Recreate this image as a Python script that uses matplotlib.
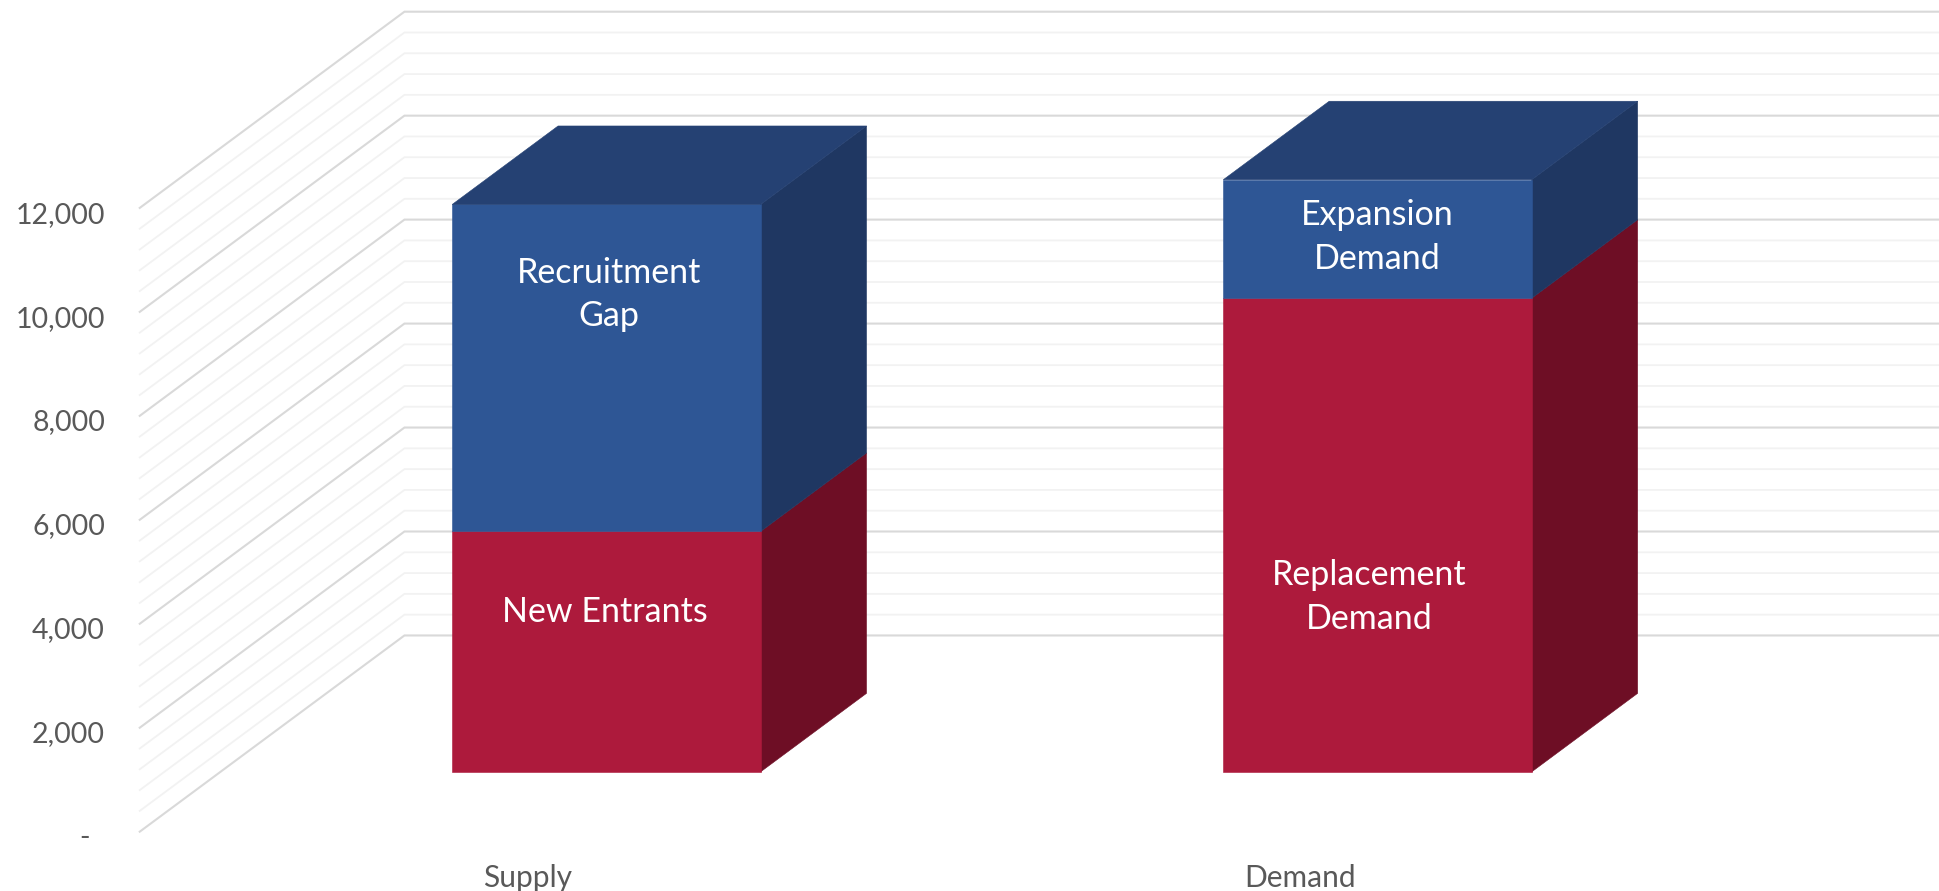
import matplotlib
matplotlib.use("Agg")
import numpy as np
import matplotlib.pyplot as plt
from matplotlib.patches import Polygon
from matplotlib.transforms import ScaledTranslation

plt.rcParams['font.family'] = ['Lato', 'DejaVu Sans']

# ---- data ----
categories = ["Supply", "Demand"]
new_entrants = [4625, 0]
recruitment_gap = [6290, 0]
replacement_demand = [0, 9112]
expansion_demand = [0, 2279]
ytick_values = [0, 2000, 4000, 6000, 8000, 10000, 12000]
ytick_labels = ["-  ", "2,000", "4,000", "6,000", "8,000", "10,000", "12,000"]

RED = ("#AD1A3C", "#6E0E25")
BLUE = ("#2E5695", "#1F3762")
TOP = "#254173"

# oblique projection: depth 0..1 moves right and up on the plane
DEPTH_X = 0.345
DEPTH_V = 3775
BAR_W = 0.402
D0, D1 = 0.305, 0.705
XMAX = 2.345
CENTERS = [0.503, 1.508]


def proj(x, v, d):
    return (x + d * DEPTH_X, v + d * DEPTH_V)


def draw_segment(ax, center, v0, v1, colors, z):
    x0, x1 = center - BAR_W / 2, center + BAR_W / 2
    front = [proj(x0, v0, D0), proj(x1, v0, D0), proj(x1, v1, D0), proj(x0, v1, D0)]
    side = [proj(x1, v0, D0), proj(x1, v0, D1), proj(x1, v1, D1), proj(x1, v1, D0)]
    ax.add_patch(Polygon(side, fc=colors[1], ec=colors[1], lw=0.4, zorder=z))
    ax.add_patch(Polygon(front, fc=colors[0], ec=colors[0], lw=0.4, zorder=z + 0.1))


def draw_top(ax, center, v):
    x0, x1 = center - BAR_W / 2, center + BAR_W / 2
    top = [proj(x0, v, D0), proj(x1, v, D0), proj(x1, v, D1), proj(x0, v, D1)]
    ax.add_patch(Polygon(top, fc=TOP, ec=TOP, lw=0.4, zorder=3.2))


fig = plt.figure(figsize=(19.39, 8.91), dpi=100)
ax = fig.add_axes([113 / 1568, 48 / 721, 1 - 113 / 1568, 673 / 721])
ax.set_xlim(0, XMAX)
ax.set_ylim(0, 16000)

# gridlines, minor first so the major ones sit on top
for v in np.arange(0, 12001, 400):
    major = v % 2000 == 0
    ax.plot([0, DEPTH_X, XMAX], [v, v + DEPTH_V, v + DEPTH_V],
            color="#D9D9D9" if major else "#F2F2F2",
            lw=1.5 if major else 1.3, zorder=2 if major else 1,
            solid_joinstyle="miter", clip_on=False)

draw_segment(ax, CENTERS[0], 0, new_entrants[0], RED, 3)
draw_segment(ax, CENTERS[0], new_entrants[0], new_entrants[0] + recruitment_gap[0], BLUE, 3)
draw_top(ax, CENTERS[0], new_entrants[0] + recruitment_gap[0])
draw_segment(ax, CENTERS[1], 0, replacement_demand[1], RED, 3)
draw_segment(ax, CENTERS[1], replacement_demand[1], replacement_demand[1] + expansion_demand[1], BLUE, 3)
draw_top(ax, CENTERS[1], replacement_demand[1] + expansion_demand[1])

lab = dict(color="white", fontsize=24.5, ha="center", va="center", zorder=5, linespacing=1.44)
ax.text(0.612, 10335, "Recruitment\nGap", **lab)
ax.text(0.606, 4227, "New Entrants", **lab)
ax.text(1.613, 11443, "Expansion\nDemand", **lab)
ax.text(1.602, 4511, "Replacement\nDemand", **lab)

ax.set_xticks([0.505, 1.512])
ax.set_xticklabels(categories)
ax.set_yticks(ytick_values)
ax.set_yticklabels(ytick_labels)
ax.tick_params(axis="both", length=0, labelcolor="#595959")
ax.tick_params(axis="x", pad=23, labelsize=21.5)
ax.tick_params(axis="y", pad=25, labelsize=20.5)
# tick labels sit a little below their gridline in the original
for t in ax.get_yticklabels():
    t.set_transform(t.get_transform() + ScaledTranslation(0, -3 / 72, fig.dpi_scale_trans))
for s in ax.spines.values():
    s.set_visible(False)
ax.patch.set_alpha(0)

fig.savefig("out.png", dpi=100)
